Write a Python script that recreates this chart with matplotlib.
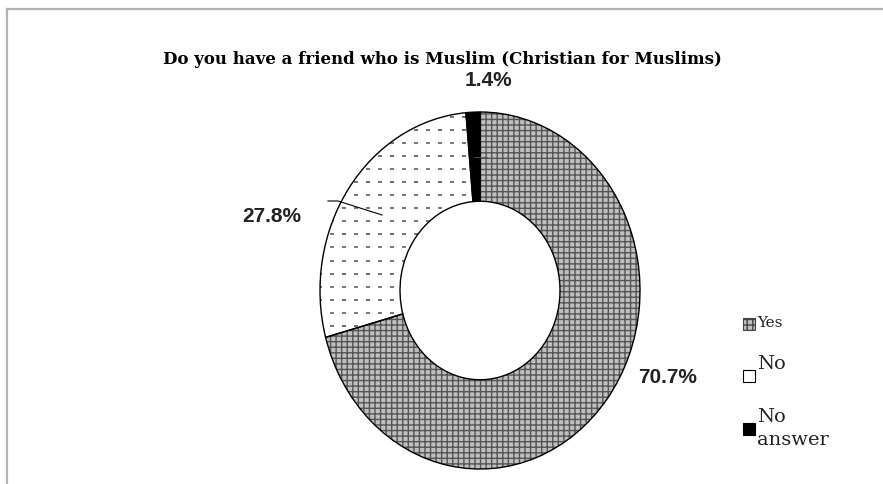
import matplotlib
matplotlib.use("Agg")
import matplotlib.pyplot as plt
import numpy as np
from matplotlib.patches import Rectangle
from matplotlib.lines import Line2D

categories = ["Yes", "No", "No", "answer"]
values = [70.7, 27.8, 1.4]
pct_labels = ["70.7%", "27.8%", "1.4%"]
title = "Do you have a friend who is Muslim (Christian for Muslims)"

W, H = 883, 485
fig = plt.figure(figsize=(W / 100, H / 100), dpi=100)
plt.rcParams['hatch.linewidth'] = 1.0

def fx(px):
    return px / W

def fy(py):
    return 1 - py / H

# pie axes (slightly elliptical like the reference)
ax = fig.add_axes([fx(320), fy(470), fx(640) - fx(320), fy(113) - fy(470)])
face = ["#bfbfbf", "white", "black"]
hatches = ["+++", None, None]
hatch_cols = ["#555555", "white", "black"]
ring = 0.50
wedges, _ = ax.pie(values, startangle=90, counterclock=False, radius=1,
                   colors=face, wedgeprops=dict(width=ring, linewidth=0))
for w, h, hc in zip(wedges, hatches, hatch_cols):
    if h:
        w.set_hatch(h)
    w.set_edgecolor(hc)
    w.set_linewidth(0)
# dotted texture of the "No" slice
gx, gy = np.meshgrid(np.arange(-1.0, 1.0, 0.075), np.arange(-1.0, 1.0, 0.073))
dots = ax.scatter(gx.ravel(), gy.ravel(), marker='_', s=6, linewidths=1.2,
                  color='#777777', zorder=3)
dots.set_clip_path(wedges[1])
outl, _ = ax.pie(values, startangle=90, counterclock=False, radius=1,
                 colors=face, wedgeprops=dict(width=ring, linewidth=1.0,
                                              edgecolor="black", fill=False,
                                              zorder=4))
ax.set_aspect('auto')
ax.set_xlim(-1, 1)
ax.set_ylim(-1, 1)
ax.axis('off')

# title
fig.text(fx(442), fy(59), title, ha='center', va='center',
         family='DejaVu Serif', weight='bold', fontsize=12)

# percentage labels
lab_font = dict(family='Liberation Sans', weight='bold', fontsize=15, color='#222222')
fig.text(fx(668), fy(378), pct_labels[0], ha='center', va='center', **lab_font)
fig.text(fx(272), fy(217), pct_labels[1], ha='center', va='center', **lab_font)
fig.text(fx(488), fy(80), pct_labels[2], ha='center', va='center', **lab_font)

# leader lines
fig.add_artist(Line2D([fx(328), fx(338), fx(382)], [fy(202), fy(202), fy(216)],
                      color='black', lw=0.8))
fig.add_artist(Line2D([fx(474), fx(487)], [fy(158), fy(158)], color='#555555', lw=0.6))

# legend
leg_font = dict(family='DejaVu Serif', color='#222222')
fig.add_artist(Rectangle((fx(743), fy(331)), fx(12), fy(0) - fy(12),
                         facecolor="#bfbfbf", edgecolor="#444444", hatch="+++", lw=0.8))
fig.text(fx(757), fy(327), categories[0], ha='left', va='baseline',
         fontsize=11, **leg_font)
fig.add_artist(Rectangle((fx(743), fy(383)), fx(12), fy(0) - fy(12),
                         facecolor="white", edgecolor="black", lw=0.8))
fig.text(fx(757), fy(369), categories[1], ha='left', va='baseline',
         fontsize=14, **leg_font)
fig.add_artist(Rectangle((fx(743), fy(436)), fx(12), fy(0) - fy(12),
                         facecolor="black", edgecolor="black", lw=0.8))
fig.text(fx(757), fy(422), categories[2], ha='left', va='baseline',
         fontsize=14, **leg_font)
fig.text(fx(757), fy(445), categories[3], ha='left', va='baseline',
         fontsize=14, **leg_font)

# frame lines
fig.add_artist(Line2D([fx(7), fx(7)], [0, fy(10)], color='#b4b4b4', lw=1.6))
fig.add_artist(Line2D([fx(7), 1], [fy(10), fy(10)], color='#b4b4b4', lw=1.6))

fig.savefig("out.png", dpi=100, facecolor="white")
